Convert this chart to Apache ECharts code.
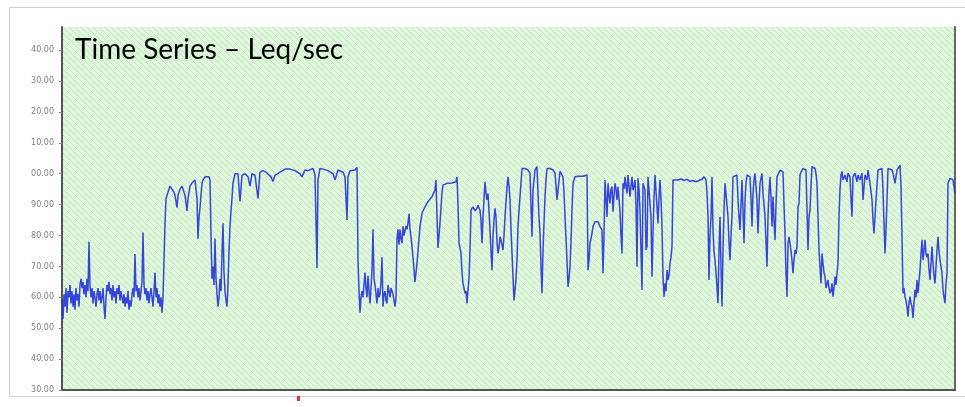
<!DOCTYPE html>
<html>
<head>
<meta charset="utf-8">
<script src="https://cdn.jsdelivr.net/npm/echarts@6/dist/echarts.min.js"></script>
<style>
html,body{margin:0;padding:0;background:#fff;}
#chart{width:965px;height:407px;}
</style>
</head>
<body>
<div id="chart"></div>
<script>
// Time in seconds from start of record
var secs = [
0,1,2,3,4,5,6,7,8,9,10,11,12,13,14,15,16,17,18,19,20,21,22,23,24,25,26,27,28,29,30,31,32,33,34,35,36,37,38,39,40,41,42,43,44,45,46,47,48,49,50,51,52,53,54,55,56,57,58,59,60,61,62,63,64,65,66,67,68,69,70,71,72,73,74,75,76,77,78,79,80,81,82,83,84,85,86,87,88,89,90,91,92,93,94,95,96,97,98,99,100,
101,102,103,104,106,108,110,112,113,115,116,118,120,121,123,125,126,128,130,131,133,135,136,137,138,140,141,143,145,147,148,
149,150,151,152,153,154,155,156,157,158,159,160,161,162,163,164,165,166,167,168,169,170,171,173,
174,176,178,180,183,186,188,190,193,196,198,201,204,206,209,211,213,215,218,220,223,225,228,230,233,235,238,240,243,246,248,251,253,255,256,258,261,263,266,268,271,273,276,278,281,283,285,286,288,290,293,295,
296,297,298,299,300,301,302,303,304,305,306,307,308,309,310,311,312,313,314,315,316,317,318,319,320,321,322,323,324,325,326,327,328,329,330,331,332,333,334,
335,336,337,338,339,340,341,342,343,344,345,346,347,348,349,350,351,352,353,354,355,356,358,360,363,366,370,373,374,375,376,377,378,380,381,385,390,394,395,396,397,399,400,401,402,403,404,405,406,407,408,
409,411,413,415,416,418,419,420,421,423,424,425,426,427,428,429,430,431,432,433,434,435,436,437,438,439,440,441,442,443,445,446,
447,448,449,450,451,452,453,454,455,456,457,458,459,460,463,466,468,469,470,471,473,475,476,477,478,479,480,481,482,483,484,485,488,491,493,494,495,496,498,500,501,502,503,504,505,506,507,508,509,510,511,513,516,518,521,523,525,526,527,528,529,530,531,533,534,535,536,538,540,541,542,543,
544,545,546,547,548,549,550,551,552,553,554,555,556,557,558,559,560,561,562,563,564,565,566,567,568,569,570,571,572,573,574,575,576,577,578,579,580,581,
582,583,584,585,586,588,589,590,591,592,593,595,596,597,598,599,600,601,602,603,604,605,606,607,608,609,610,611,
613,616,619,622,625,628,631,634,637,640,642,644,
645,646,647,648,649,650,651,652,653,654,655,656,657,658,659,660,661,662,663,665,666,667,668,669,670,671,673,675,676,677,678,679,680,681,682,683,684,685,686,688,689,690,691,692,693,694,695,696,697,698,700,701,702,703,704,705,706,707,708,709,710,711,712,713,714,715,717,718,720,721,722,723,724,725,726,
727,728,729,730,731,732,733,734,735,736,737,738,739,741,744,745,746,747,748,749,750,753,754,755,756,757,758,759,760,761,762,763,764,765,766,767,768,769,770,771,772,773,774,775,776,777,778,779,
780,781,783,785,786,788,789,790,791,793,795,796,798,800,801,803,805,806,808,810,811,812,813,814,816,818,820,821,822,823,824,825,826,828,830,831,833,835,838,839,840,
841,842,843,844,845,846,847,848,849,850,851,852,853,854,855,856,857,858,859,860,861,862,863,864,865,866,867,868,869,870,871,872,873,874,875,876,877,878,879,880,881,882,883,884,885,886,888,890,891,893
];
// Leq per second, dB
var leq = [
59,53,61,57,63,55,62,60,64,58,62,57,61,56,63,59,61,57,64,66,63,65,61,64,60,66,62,78,64,60,63,58,62,60,57,61,63,59,62,58,60,63,57,53,60,64,62,65,61,63,59,64,60,62,58,63,61,64,59,62,60,58,61,57,60,58,62,56,59,57,61,63,60,74,62,64,60,63,59,62,65,81,64,61,63,59,62,58,61,63,60,57,62,68,60,63,58,61,57,60,55,
60,72,84,92,94,96,96,94,93,89,93,95,96,96,93,88,92,96,97,97,98,92,79,86,89,97,98,99,99,99,98,
80,66,70,64,79,66,61,57,60,66,62,74,84,68,62,59,57,64,75,83,88,92,97,100,
100,100,91,99.5,100,99,96,100,99.5,92,100.5,101,100.5,100,99,97.5,99.5,99.5,100.5,101,101.5,101,101.5,102,101,100.8,100,99,101.2,101,100.8,101.7,99.6,69.5,98,101.7,101.5,101.2,101,100.8,100,98,101.2,101,100.5,99,85,99,101,100.8,101.2,102,
72,62,55,60,62,60,64,68,63,60,67,62,58,63,69,82,66,64,61,58,63,60,61,65,73,57,61,62,59,58,64,62,60,63,63,61,59,57,60,
79,82,77,82,79,77.5,83,80,79.6,83,82,84,87,82,79.6,76.4,73,69,65,68,71,75,82.9,87.2,89.3,91,92.6,94.7,98,86,76,80,84,94,96.3,96.9,97,97.4,99,90,77.6,74.2,68,64.5,63,61.3,62,58,62.4,66,75.3,
88.2,89.3,88,88.8,89.8,88.2,85,77.5,86,97.4,94,91.5,93.6,88,81.8,75,68.8,79.6,85,88.8,86,78,74.2,76,79.6,78.5,78.5,75.3,80,86,95.8,99,
96,91.5,82,74.2,66.7,59,62.4,66,72,82.9,88,92.6,97,101.7,101.7,101.2,100.2,90,79.6,94.7,101.2,102.3,93.6,86,80.7,70,61.3,75.3,84,92.6,98,101.7,101.7,101.2,100.2,96,91.5,94.7,100.8,100.2,99,94,86.1,79,72,63.4,66,69.9,78,88.2,96.9,99,99.2,99,99.2,99,99.6,68.8,72,77.5,79,80.7,82.9,84.5,85,83.9,84.5,82.9,81.8,67.8,80,98,
92,86,96.9,93,90.4,95,95.8,87.7,93,96.9,95,91.5,95.8,92,87.7,80,74.2,96.9,95,99,96,93.6,99.6,96,92.6,96,99,94.7,96,98,90,69.9,98.5,95,88.2,75,62.4,96.9,
97,94.7,75.3,76.4,99,99.6,86,66.7,80.7,92,99.6,99,83.9,92,98,92,82.9,66.7,60.2,64.5,62,68.8,65.6,67,71,73,76.4,98,
98.5,98,98.3,97.8,98.2,97.5,97.8,97.4,97.8,98.2,99,98,
94,86.1,65.6,80,86.1,99,81.8,75,72,68,63.4,58.1,75.3,86.1,70,57,75.3,88,96.9,97.4,86.1,78,72,80,86.1,99,99.2,99.6,91.5,86,81.8,90,98,88.2,77.5,91.5,97,99.6,99.6,99,92,82.9,93.6,98,100.1,96,91.5,80.7,90,96.9,100.1,93.6,90,86.1,78,69.9,86.1,94,99,92,82.9,92.6,85,78.6,90,99,100.5,101.2,101.2,100.6,90,80.7,68,60.2,77.5,
79.6,77.5,75,72,67.8,72,75.3,74,76.4,89.3,90.4,99.6,100.5,101.7,101.2,88.2,75.3,86.1,88.2,96,102.3,101.7,100,96.9,86.1,75.3,70,64.5,74.2,71,68,66.7,63,62.4,65.6,63,61.3,62,64.5,60.2,63,66.7,64,67.8,71,86.1,95,99.6,
100.7,98,99.6,97.4,100.2,99,92,86.1,99,100.2,97.4,99.6,98,100.2,91.5,99.6,98,101.2,96.9,91.5,85,80.7,86,91.5,101.2,101,101.7,94.7,84,74.2,82,91.5,101.7,101.5,101.2,100.2,96.9,101.2,102.8,96,79.6,
61.3,63,60.2,59,57,53.7,58,60.2,58,57,53.3,58,62.4,60,65.6,61.3,65,68.8,74,78.6,72,75,78.6,74,73,74.2,69,65.6,71,76.4,71,67,64.5,70,75.3,79.6,75,72,70,67.8,62.4,60,58.1,64.5,67.8,96.9,98.5,98.2,98,93.6
];
var yMin = 30, yMax = 147.5, yStep = 10;
var titleText = 'Time Series \u2013 Leq/sec';

var pairs = secs.map(function (t, i) { return [t, leq[i]]; });

// hatched green pattern
var pc = document.createElement('canvas');
pc.width = 6; pc.height = 6;
var g = pc.getContext('2d');
g.fillStyle = '#def6da';
g.fillRect(0, 0, 6, 6);
g.strokeStyle = '#c6e4c2';
g.lineWidth = 1;
g.beginPath();
g.moveTo(-1, -1); g.lineTo(7, 7);
g.moveTo(-1, 5); g.lineTo(1, 7);
g.moveTo(5, -1); g.lineTo(7, 1);
g.stroke();

var chart = echarts.init(document.getElementById('chart'), null, {renderer: 'canvas'});
chart.setOption({
  animation: false,
  backgroundColor: '#ffffff',
  grid: {
    left: 62, right: 10, top: 27, bottom: 17,
    show: true,
    backgroundColor: {image: pc, repeat: 'repeat'},
    borderWidth: 0
  },
  graphic: [
    {type: 'rect', shape: {x: 9.5, y: 7.5, width: 970, height: 389}, style: {fill: 'none', stroke: '#cfcfcf', lineWidth: 1}, z: -1},
    {type: 'rect', shape: {x: 297, y: 396, width: 3, height: 5}, style: {fill: '#e8332a'}},
    {type: 'text', left: 75, top: 36, style: {text: titleText, font: '28px Lato, "Open Sans", sans-serif', fill: '#000'}}
  ],
  xAxis: {
    type: 'value', min: 0, max: 893,
    axisLine: {show: true, onZero: false, lineStyle: {color: '#555', width: 2}},
    axisTick: {show: false}, axisLabel: {show: false}, splitLine: {show: false}
  },
  yAxis: [{
    type: 'value', min: yMin, max: yMax, interval: yStep,
    axisLine: {show: true, lineStyle: {color: '#555', width: 2}},
    axisTick: {show: true, length: 3, lineStyle: {color: '#888', width: 1}},
    axisLabel: {
      color: '#808080', fontSize: 8, margin: 8, fontFamily: 'DejaVu Sans',
      showMaxLabel: false,
      formatter: function (v) {
        if (v % 10 !== 0) return '';
        var d = v % 100;
        return (d < 10 ? '0' : '') + d + '.00';
      }
    },
    splitLine: {show: false}
  }, {
    type: 'value', position: 'right', min: yMin, max: yMax,
    axisLine: {show: true, lineStyle: {color: '#666', width: 2}},
    axisTick: {show: false}, axisLabel: {show: false}, splitLine: {show: false}
  }],
  series: [{
    type: 'line', data: pairs, showSymbol: false, symbol: 'none',
    lineStyle: {color: '#2433d8', width: 1.5, opacity: 0.9},
    z: 3
  }]
});
</script>
</body>
</html>
